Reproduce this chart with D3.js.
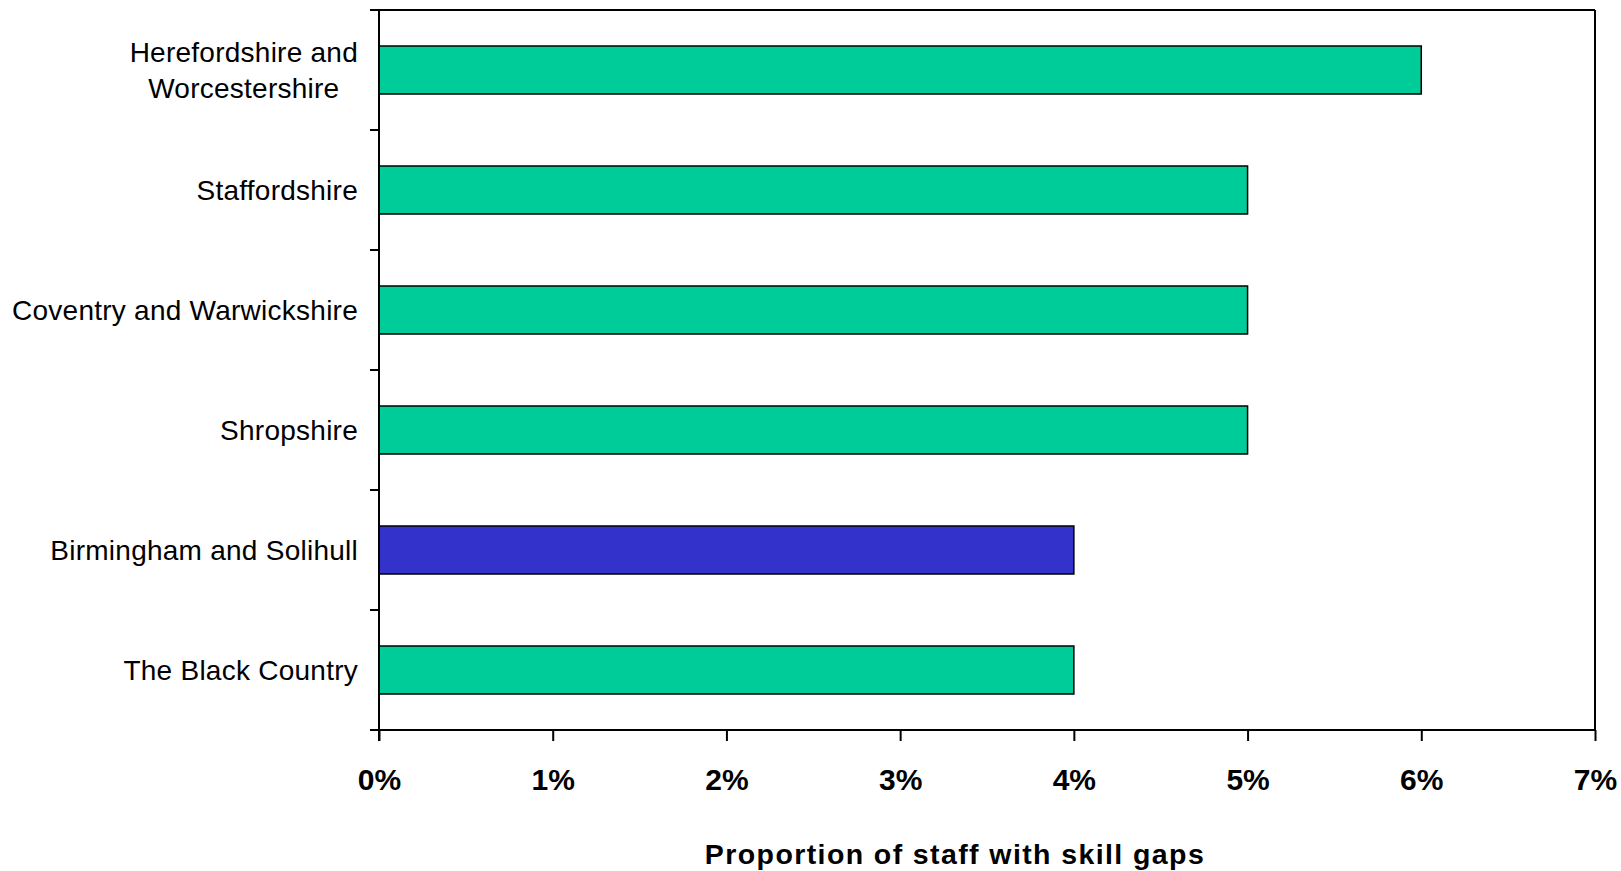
<!DOCTYPE html>
<html>
<head>
<meta charset="utf-8">
<script src="https://cdn.jsdelivr.net/npm/d3@7"></script>
<style>
  html, body { margin: 0; padding: 0; background: #fff; }
  svg { display: block; font-family: "Liberation Sans", Arial, sans-serif; }
</style>
</head>
<body>
<svg id="chart" width="1621" height="871"></svg>
<script>
const categories = [
  "Herefordshire and\nWorcestershire",
  "Staffordshire",
  "Coventry and Warwickshire",
  "Shropshire",
  "Birmingham and Solihull",
  "The Black Country"
];
const values = [0.06, 0.05, 0.05, 0.05, 0.04, 0.04];
const highlighted = ["Birmingham and Solihull"];
const xTicks = [0, 0.01, 0.02, 0.03, 0.04, 0.05, 0.06, 0.07];
const xTitle = "Proportion of staff with skill gaps";

const W = 1621, H = 871;
const margin = { top: 10, right: 26, bottom: 141, left: 379 };
const iw = W - margin.left - margin.right;
const ih = H - margin.top - margin.bottom;

const svg = d3.select("#chart");
const g = svg.append("g").attr("transform", `translate(${margin.left},${margin.top})`);

const x = d3.scaleLinear().domain([0, 0.07]).range([0, iw]);
const y = d3.scaleBand().domain(categories).range([0, ih]).paddingInner(0.6).paddingOuter(0.3);

const data = categories.map((c, i) => ({ cat: c, v: values[i] }));

// bars
g.selectAll("rect.bar").data(data).join("rect")
  .attr("class", "bar")
  .attr("x", x(0))
  .attr("y", d => y(d.cat))
  .attr("width", d => x(d.v) - x(0))
  .attr("height", y.bandwidth())
  .attr("fill", d => highlighted.includes(d.cat) ? "#3333CC" : "#00CC99")
  .attr("stroke", "#000")
  .attr("stroke-width", 1.5);

// frame (top and right)
g.append("line").attr("x1", 0).attr("x2", iw).attr("y1", 0).attr("y2", 0)
  .attr("stroke", "#000").attr("stroke-width", 2);
g.append("line").attr("x1", iw).attr("x2", iw).attr("y1", 0).attr("y2", ih)
  .attr("stroke", "#000").attr("stroke-width", 2);

// x axis
const xAxis = g.append("g").attr("transform", `translate(0,${ih})`)
  .call(d3.axisBottom(x).tickValues(xTicks).tickFormat(d3.format(".0%")).tickSize(11).tickSizeOuter(0));
xAxis.select(".domain").attr("stroke", "#000").attr("stroke-width", 2)
  .attr("d", `M-9,0H${iw}`);
xAxis.selectAll(".tick line").attr("stroke", "#000").attr("stroke-width", 2);
xAxis.selectAll(".tick text")
  .attr("y", 60).attr("dy", 0)
  .attr("fill", "#000")
  .style("font-size", "30px").style("font-weight", "bold")
  .style("font-family", "'Liberation Sans', Arial, sans-serif");

// y axis
const yAxis = g.append("g")
  .call(d3.axisLeft(y).tickSize(0).tickSizeOuter(0).tickFormat(""));
yAxis.select(".domain").attr("stroke", "#000").attr("stroke-width", 2)
  .attr("d", `M0,0V${ih + 11}`);
yAxis.selectAll(".tick text").remove();

const half = y.step() * y.paddingInner() / 2;
const boundaries = categories.map(c => y(c) - half).concat([y(categories[categories.length - 1]) + y.bandwidth() + half]);
g.append("g").selectAll("line").data(boundaries).join("line")
  .attr("x1", -9).attr("x2", 0)
  .attr("y1", d => d).attr("y2", d => d)
  .attr("stroke", "#000").attr("stroke-width", 2);

// category labels
const labelRight = -21;
const lineH = 36;
const labels = g.append("g").selectAll("text").data(categories).join("text")
  .attr("fill", "#000")
  .style("font-size", "28px")
  .style("letter-spacing", "0.25px")
  .style("font-family", "'Liberation Sans', Arial, sans-serif");
labels.each(function(c) {
  const t = d3.select(this);
  const lines = c.split("\n");
  const cy = y(c) + y.bandwidth() / 2;
  lines.forEach((ln, i) => {
    t.append("tspan").text(ln)
      .attr("y", cy + (i - (lines.length - 1) / 2) * lineH)
      .attr("dy", "0.35em");
  });
  const tspans = t.selectAll("tspan").nodes();
  const maxW = d3.max(tspans, n => n.getComputedTextLength());
  t.attr("text-anchor", "middle");
  t.selectAll("tspan").attr("x", labelRight - maxW / 2);
});

// x-axis title
svg.append("text")
  .attr("x", 955).attr("y", 864)
  .attr("text-anchor", "middle")
  .attr("fill", "#000")
  .style("font-size", "28.5px").style("font-weight", "bold")
  .style("letter-spacing", "1.4px")
  .style("font-family", "'Liberation Sans', Arial, sans-serif")
  .text(xTitle);
</script>
</body>
</html>
